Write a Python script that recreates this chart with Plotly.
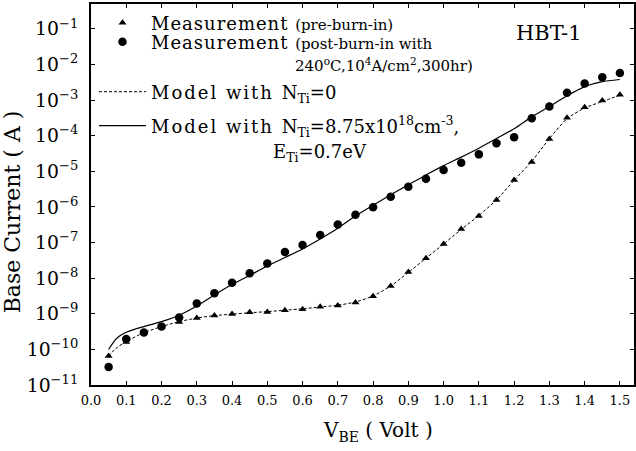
import plotly.graph_objects as go

# ---- data ----
vbe_meas = [0.05, 0.10, 0.15, 0.20, 0.25, 0.30, 0.35, 0.40, 0.45, 0.50,
            0.55, 0.60, 0.65, 0.70, 0.75, 0.80, 0.85, 0.90, 0.95, 1.00,
            1.05, 1.10, 1.15, 1.20, 1.25, 1.30, 1.35, 1.40, 1.45, 1.50]

ib_pre = [6.5e-11, 1.62e-10, 3.0e-10, 4.3e-10, 5.9e-10, 7.6e-10, 8.9e-10, 9.8e-10, 1.1e-9, 1.12e-9,
          1.26e-9, 1.35e-9, 1.58e-9, 1.70e-9, 2.09e-9, 3.09e-9, 6.0e-9, 1.48e-8, 3.63e-8, 9.1e-8,
          2.4e-7, 5.6e-7, 1.58e-6, 5.75e-6, 1.82e-5, 8.1e-5, 3.2e-4, 6.3e-4, 9.8e-4, 1.41e-3]

ib_post = [3.2e-11, 1.95e-10, 3.0e-10, 4.4e-10, 7.9e-10, 1.95e-9, 3.8e-9, 7.4e-9, 1.38e-8, 2.6e-8,
           5.4e-8, 8.5e-8, 1.62e-7, 3.2e-7, 6.0e-7, 9.8e-7, 1.95e-6, 3.7e-6, 6.2e-6, 1.1e-5,
           1.74e-5, 3.0e-5, 6.2e-5, 9.1e-5, 3.1e-4, 6.6e-4, 1.62e-3, 2.95e-3, 4.4e-3, 5.75e-3]

vbe_model0 = [0.05, 0.07, 0.10, 0.15, 0.20, 0.25, 0.30, 0.35, 0.40, 0.45, 0.50,
              0.55, 0.60, 0.65, 0.70, 0.75, 0.80, 0.85, 0.90, 0.95, 1.00,
              1.05, 1.10, 1.15, 1.20, 1.25, 1.30, 1.35, 1.40, 1.45, 1.50]
ib_model0 = [6.5e-11, 1.05e-10, 1.66e-10, 2.95e-10, 4.37e-10, 6.03e-10, 7.59e-10, 8.91e-10, 9.77e-10, 1.07e-9, 1.15e-9,
             1.26e-9, 1.38e-9, 1.55e-9, 1.74e-9, 2.14e-9, 3.16e-9, 6.03e-9, 1.45e-8, 3.63e-8, 9.12e-8,
             2.34e-7, 5.75e-7, 1.58e-6, 5.62e-6, 1.91e-5, 8.32e-5, 3.02e-4, 6.03e-4, 9.12e-4, 1.38e-3]

vbe_model1 = [0.05, 0.06, 0.07, 0.08, 0.10, 0.125, 0.15, 0.20, 0.25, 0.30, 0.35, 0.40, 0.45, 0.50,
              0.55, 0.60, 0.65, 0.70, 0.75, 0.80, 0.85, 0.90, 0.95, 1.00,
              1.05, 1.10, 1.15, 1.20, 1.25, 1.30, 1.35, 1.40, 1.45, 1.50]
ib_model1 = [1.0e-10, 1.41e-10, 1.91e-10, 2.34e-10, 3.02e-10, 3.72e-10, 4.37e-10, 6.03e-10, 9.12e-10, 1.66e-9,
             3.39e-9, 6.61e-9, 1.20e-8, 2.19e-8, 3.80e-8, 6.61e-8, 1.26e-7, 2.51e-7, 5.62e-7, 1.12e-6,
             2.19e-6, 4.17e-6, 7.94e-6, 1.45e-5, 2.51e-5, 4.47e-5, 8.32e-5, 1.58e-4, 3.39e-4, 6.61e-4,
             1.32e-3, 2.40e-3, 3.31e-3, 3.80e-3]

FONT = "DejaVu Serif"

fig = go.Figure()

fig.add_trace(go.Scatter(
    x=vbe_model0, y=ib_model0, mode="lines",
    line=dict(color="black", width=1, dash="3px,2px", shape="spline", smoothing=0.6),
    name='<span style="letter-spacing:2px">Model with </span>N<sub>Ti</sub>=0', legend="legend3"))
fig.add_trace(go.Scatter(
    x=vbe_model1, y=ib_model1, mode="lines",
    line=dict(color="black", width=1.2, shape="spline", smoothing=0.6),
    name='<span style="letter-spacing:2px">Model with </span>N<sub>Ti</sub>=8.75x10<sup>18</sup>cm<sup>-3</sup>,',
    legend="legend4"))
fig.add_trace(go.Scatter(
    x=vbe_meas, y=ib_pre, mode="markers", marker=dict(symbol="triangle-up", size=7, color="black"),
    name='<span style="letter-spacing:1px">Measurement </span><span style="font-size:15px">(pre-burn-in)</span>',
    legend="legend"))
fig.add_trace(go.Scatter(
    x=vbe_meas, y=ib_post, mode="markers", marker=dict(symbol="circle", size=8.5, color="black"),
    name='<span style="letter-spacing:1px">Measurement </span><span style="font-size:15px">(post-burn-in with</span>',
    legend="legend2"))

# paper coordinates helpers (plot area: x 91..636, y 4..385 in the picture)
def px(xp):
    return (xp - 91) / 545.0

def py(yp):
    return (385 - yp) / 381.0

leg_common = dict(font=dict(family=FONT, size=18, color="black"), bgcolor="rgba(0,0,0,0)",
                  borderwidth=0, itemwidth=47, xanchor="left", yanchor="middle", tracegroupgap=0)
fig.update_layout(
    legend=dict(x=px(94), y=py(23), **leg_common),
    legend2=dict(x=px(94), y=py(42), **leg_common),
    legend3=dict(x=px(94), y=py(92), **leg_common),
    legend4=dict(x=px(94), y=py(126), **leg_common),
)

annos = [
    dict(text='240<sup>o</sup>C,10<sup>4</sup>A/cm<sup>2</sup>,300hr)', x=px(294), y=py(65),
         font=dict(family=FONT, size=15, color="black")),
    dict(text='E<sub>Ti</sub>=0.7eV', x=px(272), y=py(153),
         font=dict(family=FONT, size=18, color="black")),
    dict(text='HBT-1', x=px(516), y=py(33),
         font=dict(family=FONT, size=21, color="black")),
]
for a in annos:
    fig.add_annotation(xref="paper", yref="paper", xanchor="left", yanchor="middle",
                       showarrow=False, **a)

fig.update_xaxes(
    range=[0, 1.54], dtick=0.1, tick0=0, tickformat=".1f",
    ticks="inside", ticklen=4, tickcolor="black", tickwidth=1,
    showline=True, linecolor="black", linewidth=1.5, mirror="ticks",
    showgrid=False, zeroline=False,
    tickfont=dict(family=FONT, size=13, color="black"), ticklabelstandoff=3,
    title=dict(text='&nbsp;&nbsp;&nbsp;&nbsp;&nbsp;V<sub>BE</sub> ( Volt )',
               font=dict(family=FONT, size=20, color="black"), standoff=16),
)
fig.update_yaxes(
    type="log", range=[-11, -0.3], dtick=1, exponentformat="power",
    ticks="inside", ticklen=4, tickcolor="black", tickwidth=1,
    showline=True, linecolor="black", linewidth=1.5, mirror="ticks",
    showgrid=False, zeroline=False,
    tickfont=dict(family=FONT, size=15, color="black"), ticklabelstandoff=8,
    title=dict(text='Base Current ( A )&nbsp;&nbsp;&nbsp;&nbsp;&nbsp;',
               font=dict(family=FONT, size=22, color="black"), standoff=4),
)

fig.update_layout(
    width=636, height=451,
    margin=dict(l=91, r=0, t=4, b=66),
    paper_bgcolor="white", plot_bgcolor="white",
    showlegend=True,
)

fig.write_html("out.html", config={"displayModeBar": False},
               post_script="document.body.style.margin='0';")
